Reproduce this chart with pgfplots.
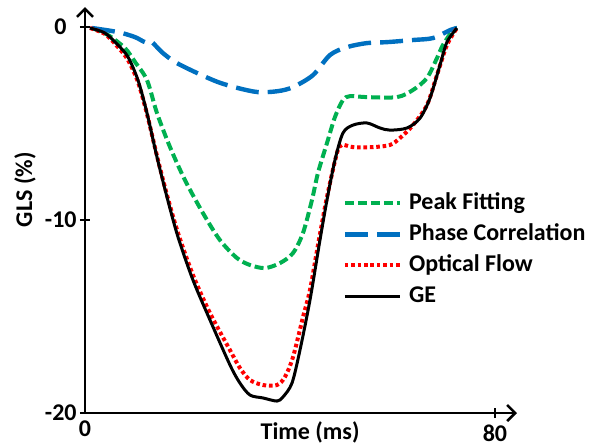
\documentclass[border=0pt]{standalone}
\usepackage{fontspec}
\setmainfont{Carlito}
\usepackage{pgfplots}
\pgfplotsset{compat=1.18}
\usetikzlibrary{arrows.meta}

\definecolor{pfgreen}{RGB}{0,176,80}
\definecolor{pcblue}{RGB}{0,112,192}
\definecolor{ofred}{RGB}{255,0,0}

\begin{document}
\begin{tikzpicture}
  \useasboundingbox (0,0) rectangle (294.5pt,223.5pt);
  \begin{axis}[
    at={(42.5pt,17pt)}, anchor=south west,
    scale only axis,
    width=216pt, height=203pt,
    xmin=0, xmax=84.3,
    ymin=-20, ymax=1.04,
    axis lines=left,
    axis line style={line width=1.3pt, -{Straight Barb[length=4pt,width=8pt]}},
    tick style={line width=1pt, black},
    tick align=center,
    major tick length=5pt,
    xtick={80}, extra x ticks={0},
    extra x tick style={major tick length=0pt},
    ytick={-20,-10,0},
    yticklabels={-20,-10,{0\rule{5pt}{0pt}}},
    font=\fontsize{12}{14}\selectfont\bfseries,
    /pgf/number format/assume math mode=true,
    xticklabel style={anchor=north, inner sep=0pt, yshift=-3.5pt, font=\fontsize{12}{14}\selectfont\bfseries},
    yticklabel style={anchor=east, inner sep=0pt, xshift=-1.5pt, font=\fontsize{12}{14}\selectfont\bfseries},
    xlabel={Time (ms)},
    ylabel={GLS (\%)},
    xlabel style={at={(axis description cs:0.521,-0.049)}, anchor=center, font=\fontsize{12}{14}\selectfont\bfseries},
    ylabel style={at={(axis description cs:-0.139,0.55)}, anchor=center, font=\fontsize{12}{14}\selectfont\bfseries},
    legend style={draw=none, fill=none, at={(axis cs:50.2,-8.55)}, anchor=north west,
      inner sep=0pt, row sep=4.5pt, column sep=3.5pt, font=\fontsize{12}{14}\selectfont\bfseries,
      nodes={inner sep=0pt, text height=8.5pt, text depth=2.5pt}},
    legend cell align=left,
    legend image code/.code={\draw[#1] (0pt,0pt) -- (27.5pt,0pt);},
    ]
    % Peak Fitting
    \addplot[pfgreen, line width=2pt, dash pattern=on 4.5pt off 2pt, smooth] coordinates {
      (1.37,-0.05) (4.49,-0.41) (7.80,-1.09) (9.76,-1.81) (12.10,-2.75)
      (14.05,-4.46) (16.59,-6.22) (19.51,-7.93) (23.02,-9.64) (26.34,-11.04)
      (29.66,-11.97) (32.20,-12.33) (35.12,-12.49) (38.05,-12.23) (40.59,-11.71)
      (42.54,-10.67) (44.29,-8.96) (45.46,-7.56) (47.22,-6.01) (48.78,-4.66)
      (50.34,-3.78) (51.71,-3.58) (55.02,-3.63) (60.88,-3.63) (64.00,-3.26)
      (66.73,-2.64) (68.68,-1.61) (69.85,-0.93) (71.80,-0.16) (72.59,-0.05)
    };
    \addlegendentry{Peak Fitting}
    % Phase Correlation
    \addplot[pcblue, line width=2.2pt, dash pattern=on 11.5pt off 4.5pt, smooth] coordinates {
      (1.37,-0.05) (6.44,-0.26) (9.76,-0.52) (11.71,-0.78) (12.68,-0.70)
      (14.05,-1.04) (15.22,-1.35) (17.56,-1.81) (21.46,-2.33) (25.95,-2.85)
      (29.85,-3.16) (33.76,-3.37) (37.66,-3.32) (40.59,-3.11) (44.49,-2.49)
      (47.80,-1.45) (51.12,-1.04) (55.02,-0.83) (58.93,-0.78) (64.00,-0.67)
      (67.90,-0.57) (71.22,-0.16) (72.59,-0.05)
    };
    \addlegendentry{Phase Correlation}
    % Optical Flow
    \addplot[ofred, line width=2pt, dash pattern=on 1.8pt off 1.4pt, smooth] coordinates {
      (0.98,-0.05) (3.90,-0.36) (6.44,-1.04) (8.39,-1.71) (10.34,-2.85)
      (12.10,-4.51) (14.05,-6.68) (16.00,-8.70) (18.15,-10.67) (21.07,-12.85)
      (24.39,-14.82) (28.29,-16.74) (30.24,-17.67) (32.20,-18.29) (34.73,-18.55)
      (37.46,-18.55) (39.02,-18.13) (40.59,-17.10) (42.54,-15.03) (43.90,-13.63)
      (45.46,-11.30) (47.22,-8.81) (49.17,-6.53) (50.15,-6.11) (52.29,-6.22)
      (56.20,-6.22) (59.51,-6.11) (61.46,-5.75) (64.00,-5.08) (66.73,-4.04)
      (68.68,-2.49) (70.63,-0.93) (72.59,-0.05)
    };
    \addlegendentry{Optical Flow}
    % GE
    \addplot[black, line width=1.5pt, smooth] coordinates {
      (0.98,-0.05) (3.90,-0.31) (6.44,-0.93) (8.39,-1.55) (10.34,-2.75)
      (12.10,-4.46) (14.05,-6.74) (16.00,-8.81) (18.15,-10.88) (21.07,-13.11)
      (24.39,-15.18) (28.29,-17.51) (30.24,-18.45) (32.20,-19.07) (34.73,-19.22)
      (37.46,-19.38) (38.63,-19.17) (40.39,-18.45) (41.95,-16.74) (43.90,-14.15)
      (45.85,-11.04) (47.22,-8.96) (48.78,-6.89) (50.34,-5.49) (52.29,-5.08)
      (55.02,-4.97) (57.56,-5.23) (59.51,-5.34) (62.83,-5.23) (65.37,-4.72)
      (67.32,-3.68) (69.27,-1.97) (70.63,-0.78) (72.59,-0.05)
    };
    \addlegendentry{GE}
  \end{axis}
\end{tikzpicture}
\end{document}
